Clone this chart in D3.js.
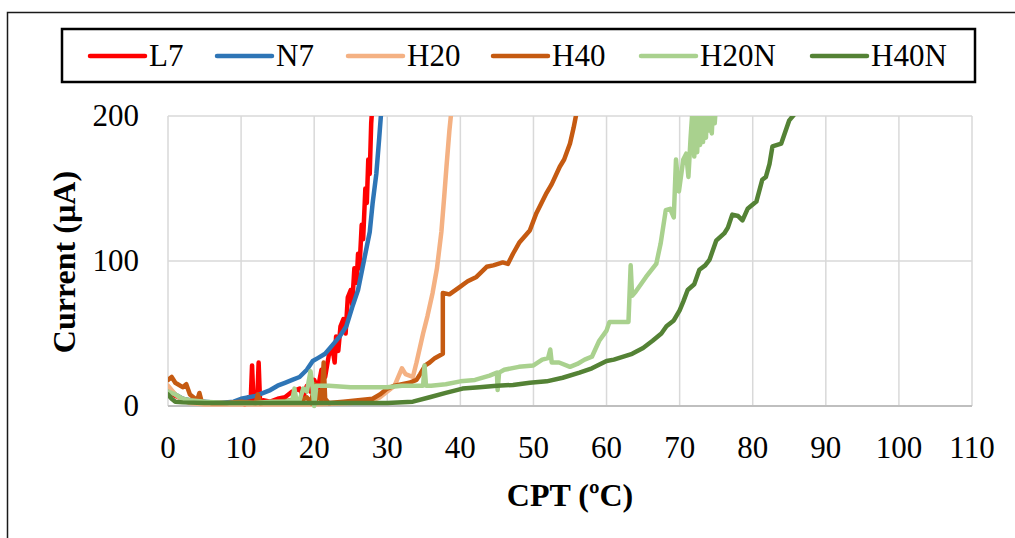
<!DOCTYPE html>
<html>
<head>
<meta charset="utf-8">
<script src="https://cdn.jsdelivr.net/npm/d3@7"></script>
<style>
  body { margin: 0; background: #fff; }
  svg { display: block; font-family: "Liberation Serif", "Times New Roman", serif; }
</style>
</head>
<body>
<svg id="viz" width="1015" height="538"></svg>
<script>
// series names and colours
const seriesNames = ["L7", "N7", "H20", "H40", "H20N", "H40N"];
const seriesColors = ["#ff0000", "#2e75b6", "#f4b183", "#c55a11", "#a9d18e", "#548235"];

const xTicks = [0, 10, 20, 30, 40, 50, 60, 70, 80, 90, 100, 110];
const yTicks = [0, 100, 200];

// [CPT, current]
const L7 = [[0,10],[1,7],[2,5],[3,3],[5,2],[7,2],[9,2],[10,4],[10.5,1],[11,6],[11.3,2],[11.5,28],[11.7,3],[12.2,3],[12.4,30],[12.6,2],[13,4],[14,3],[15,5],[16,6],[17,10],[18,12],[18.5,6],[19,14],[19.5,10],[20,18],[20.5,12],[21,25],[21.5,20],[22,35],[22.5,40],[22.8,30],[23,48],[23.3,38],[23.6,55],[24,60],[24.3,50],[24.6,75],[25,80],[25.2,70],[25.5,95],[25.8,85],[26,105],[26.2,95],[26.5,125],[26.7,115],[27,150],[27.2,140],[27.4,170],[27.6,160],[27.8,195],[28,210]];
const N7 = [[0,12],[1,8],[2,5],[3,4],[5,3],[7,2],[9,3],[10,5],[12,7],[14,11],[15,14],[16,16],[17,18],[18,20],[19,25],[19.8,31],[20.5,33],[21.5,36],[22.5,42],[23.5,48],[24.4,55],[25.2,68],[26,80],[26.6,95],[27.2,110],[27.6,120],[28,140],[28.5,160],[28.9,185],[29.2,205]];
const H20 = [[0,14],[1,8],[2,4],[3,2],[5,1],[8,1],[10,1],[15,1],[20,1],[25,2],[28,4],[29,6],[30,10],[31,14],[32,26],[32.5,22],[33.5,20],[34,30],[34.9,50],[35.5,62],[36.2,78],[36.8,95],[37.4,120],[37.8,145],[38.1,165],[38.5,190],[38.8,205]];
const H40 = [[0,18],[0.5,20],[1,16],[2,13],[2.5,15],[3,8],[4,4],[4.3,9],[4.6,3],[6,2],[8,2],[10,3],[12,2],[12.3,8],[12.6,2],[15,3],[17,4],[18,3],[19,6],[19.6,2],[20,15],[20.3,4],[20.8,10],[21,3],[21.3,30],[21.5,5],[22,2],[24,3],[26,4],[28,5],[29,8],[30,12],[31,14],[32,15],[33,16],[34,18],[34.5,22],[35.2,28],[35.8,30],[36.5,33],[37.6,36],[37.6,78],[38.5,77],[39.9,82],[41,86],[42.2,89],[43.6,96],[44.5,97],[45.8,99],[46.5,98],[47.2,105],[48.1,113],[49.5,121],[50.4,133],[51.8,147],[52.5,153],[53.6,165],[54.2,170],[55,181],[55.5,192],[56,205]];
const H20N = [[0,10],[1,8],[2,5],[3,4],[5,3],[8,2],[10,2],[12,2],[14,3],[16,3],[17,4],[17.3,12],[17.6,3],[18,4],[18.5,12],[19,10],[19.5,24],[19.8,12],[20,0],[20.3,14],[22,14],[25,13],[28,13],[30,13],[32,14],[34,14],[34.9,14],[35.1,28],[35.3,14],[36,14],[38,15],[40,17],[42,18],[44,21],[45,23],[45.1,11],[45.3,23],[46,25],[48,27],[50,28],[51.2,32],[52,33],[52.3,39],[52.5,30],[53.5,30],[55,27],[56,29],[57,32],[58,34],[59,45],[60,52],[60.4,58],[61.5,58],[63,58],[63.3,97],[63.5,76],[64,79],[65.4,89],[66.8,98],[67.4,112],[68.1,135],[68.7,136],[69.2,130],[69.5,170],[69.9,148],[70.5,170],[70.9,174],[71.2,158],[71.5,185],[71.7,200],[72,172],[72.2,210],[72.4,175],[72.6,210],[72.8,180],[73,210],[73.2,182],[73.4,210],[73.6,185],[73.8,210],[74,190],[74.2,210],[74.4,188],[74.6,210],[74.8,195],[75,210]];
const H40N = [[0,8],[0.5,5],[1,3],[2,2.5],[5,2],[10,2],[15,2],[20,2],[25,2],[30,2],[33.5,3],[35.8,6],[38,9],[40.3,12],[42.6,13],[45,14],[47.2,14.5],[49.5,16],[51.8,17],[54,19.5],[56.3,23],[58,26],[60,31],[61,32],[63.5,36],[65,40],[66.3,45],[67.5,50],[68.2,55],[69.2,59],[70,66],[70.5,72],[71.1,80],[72,84],[72.7,94],[73.5,97],[74.1,101],[75,114],[76.1,119],[76.6,123],[77.2,132],[78,131],[78.6,128],[79.3,136],[80.5,141],[81.3,156],[81.8,158],[82.3,167],[82.7,179],[83.9,181],[85,197],[86,203]];

const allSeries = [L7, N7, H20, H40, H20N, H40N];

const svg = d3.select("#viz");
const plot = {left: 168, right: 972, top: 116, bottom: 406};

const x = d3.scaleLinear().domain([0, 110]).range([plot.left, plot.right]);
const y = d3.scaleLinear().domain([0, 200]).range([plot.bottom, plot.top]);

// outer frame
svg.append("rect")
    .attr("x", 7.5).attr("y", 12.5)
    .attr("width", 1020).attr("height", 540)
    .attr("fill", "none").attr("stroke", "#1a1a1a").attr("stroke-width", 1.5);

// grid
svg.append("g")
    .selectAll("line")
    .data(xTicks)
    .join("line")
    .attr("x1", (d) => x(d)).attr("x2", (d) => x(d))
    .attr("y1", plot.top).attr("y2", plot.bottom)
    .attr("stroke", "#d9d9d9").attr("stroke-width", 1.5);

svg.append("g")
    .selectAll("line")
    .data(yTicks.slice(1))
    .join("line")
    .attr("x1", plot.left).attr("x2", plot.right)
    .attr("y1", (d) => y(d)).attr("y2", (d) => y(d))
    .attr("stroke", "#d9d9d9").attr("stroke-width", 1.5);

// x axis baseline
svg.append("line")
    .attr("x1", plot.left).attr("x2", plot.right)
    .attr("y1", plot.bottom).attr("y2", plot.bottom)
    .attr("stroke", "#bfbfbf").attr("stroke-width", 2);

// tick labels
svg.append("g")
    .selectAll("text")
    .data(xTicks)
    .join("text")
    .attr("x", (d) => x(d)).attr("y", 458)
    .attr("text-anchor", "middle")
    .attr("font-size", 31)
    .text((d) => d);

svg.append("g")
    .selectAll("text")
    .data(yTicks)
    .join("text")
    .attr("x", 139).attr("y", (d) => y(d) + 10)
    .attr("text-anchor", "end")
    .attr("font-size", 31)
    .text((d) => d);

// axis titles
svg.append("text")
    .attr("x", 570).attr("y", 506)
    .attr("text-anchor", "middle")
    .attr("font-size", 32).attr("font-weight", "bold")
    .text("CPT (ºC)");

svg.append("text")
    .attr("transform", "translate(75,262) rotate(-90)")
    .attr("text-anchor", "middle")
    .attr("font-size", 32).attr("font-weight", "bold")
    .text("Current (µA)");

// series
svg.append("clipPath").attr("id", "clip")
    .append("rect")
    .attr("x", plot.left).attr("y", plot.top)
    .attr("width", plot.right - plot.left).attr("height", plot.bottom - plot.top + 4);

const line = d3.line()
    .x((d) => x(d[0]))
    .y((d) => y(d[1]));

svg.append("g")
    .attr("clip-path", "url(#clip)")
    .selectAll("path")
    .data(allSeries)
    .join("path")
    .attr("d", line)
    .attr("fill", "none")
    .attr("stroke", (d, i) => seriesColors[i])
    .attr("stroke-width", 4.5)
    .attr("stroke-linejoin", "round")
    .attr("stroke-linecap", "round");

// legend
const legendX = [90, 217, 348, 493, 641, 812];
const legend = svg.append("g");
legend.append("rect")
    .attr("x", 62).attr("y", 29)
    .attr("width", 913).attr("height", 53)
    .attr("fill", "#fff").attr("stroke", "#000").attr("stroke-width", 2.5);

const items = legend.selectAll("g")
    .data(seriesNames)
    .join("g")
    .attr("transform", (d, i) => `translate(${legendX[i]},56)`);
items.append("line")
    .attr("x1", 0).attr("x2", 55)
    .attr("stroke", (d, i) => seriesColors[i])
    .attr("stroke-width", 4.5)
    .attr("stroke-linecap", "round");
items.append("text")
    .attr("x", 59).attr("y", 10)
    .attr("font-size", 31)
    .text((d) => d);
</script>
</body>
</html>
